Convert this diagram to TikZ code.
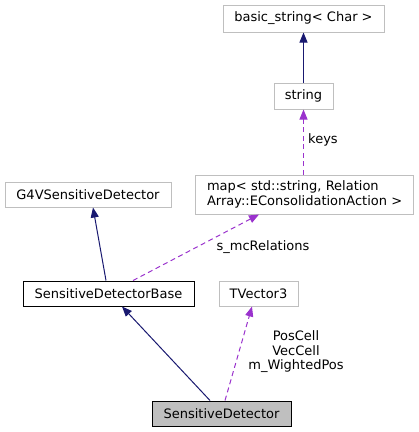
\documentclass[tikz,border=0pt]{standalone}
\usepackage{fontspec}
\setmainfont{DejaVu Sans}
\usetikzlibrary{arrows.meta}
\definecolor{edgeblue}{HTML}{191970}
\definecolor{edgepurple}{HTML}{9A32CD}
\definecolor{boxgrey}{HTML}{BFBFBF}
\tikzset{
  cls/.style={draw=boxgrey, line width=1pt, fill=white, inner sep=0pt, font=\fontsize{13}{14.5}\selectfont},
  inh/.style={draw=edgeblue, line width=1pt, -{Triangle[length=10pt,width=8pt,fill=edgeblue]}},
  use/.style={draw=edgepurple, line width=1pt, dash pattern=on 5pt off 3.5pt, -{Triangle[length=10pt,width=8pt,fill=edgepurple]}},
  lbl/.style={font=\fontsize{13}{14.5}\selectfont, align=center, inner sep=0pt}
}
\begin{document}
\begin{tikzpicture}[x=1pt,y=-1pt]
\useasboundingbox (0,0) rectangle (419,432);
\node[cls, minimum width=161pt, minimum height=27pt] (bs) at (303.5,18.5) {basic\_string< Char >};
\node[cls, minimum width=59pt, minimum height=26pt] (str) at (303.5,96) {string};
\node[cls, minimum width=166pt, minimum height=25pt] (g4v) at (88,194.5) {G4VSensitiveDetector};
\node[cls, minimum width=218pt, minimum height=39pt, text width=194pt, align=left] (map) at (304,194.5) {map< std::string, Relation\\Array::EConsolidationAction~>};
\node[cls, draw=black, minimum width=171pt, minimum height=25pt] (sdb) at (108.5,293.5) {SensitiveDetectorBase};
\node[cls, minimum width=79pt, minimum height=25pt] (tv) at (258.5,293.5) {TVector3};
\node[cls, draw=black, fill=boxgrey, minimum width=139pt, minimum height=25pt] (sd) at (221.5,413.5) {SensitiveDetector};

\draw[inh] (str.north) -- (bs.south);
\draw[use] ([xshift=-0.5pt]map.north) -- ([xshift=0pt]str.south);
\draw[inh] ([xshift=-2.5pt]sdb.north) -- ([xshift=5pt]g4v.south);
\draw[use] ([xshift=24.5pt]sdb.north) -- ([xshift=-45pt]map.south);
\draw[inh] ([xshift=-11.5pt]sd.north) -- ([xshift=13.5pt]sdb.south);
\draw[use] ([xshift=3.5pt]sd.north) -- ([xshift=-6.5pt]tv.south);

\node[lbl] (lkeys) at (323,140) {keys};
\node[lbl] (lrel) at (263,247) {s\_mcRelations};
\node[lbl] (lpos) at (296,352) {PosCell\\VecCell\\m\_WightedPos};
\end{tikzpicture}
\end{document}
